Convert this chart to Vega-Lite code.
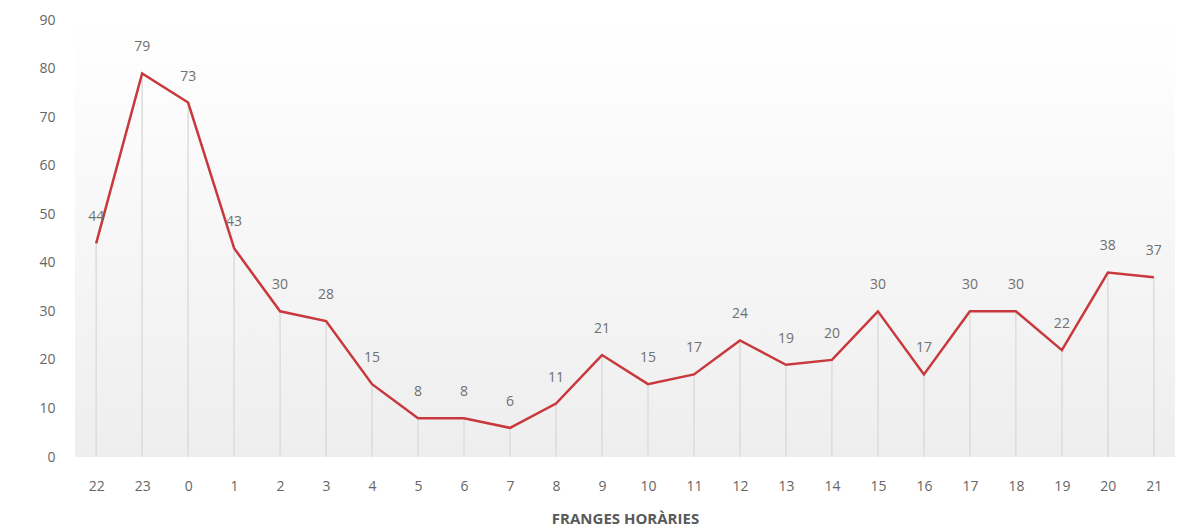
{
  "$schema": "https://vega.github.io/schema/vega-lite/v6.json",
  "width": 1100,
  "height": 437,
  "autosize": {"type": "none"},
  "padding": {"left": 75, "top": 20, "right": 3, "bottom": 74},
  "background": "white",
  "config": {
    "view": {
      "stroke": null,
      "fill": {"gradient": "linear", "x1": 0, "y1": 0, "x2": 0, "y2": 1, "stops": [{"offset": 0, "color": "#ffffff"}, {"offset": 1, "color": "#eeeeee"}]}
    },
    "font": "Open Sans"
  },
  "data": {
    "values": [
      {"hora": "22", "valor": 44},
      {"hora": "23", "valor": 79},
      {"hora": "0", "valor": 73},
      {"hora": "1", "valor": 43},
      {"hora": "2", "valor": 30},
      {"hora": "3", "valor": 28},
      {"hora": "4", "valor": 15},
      {"hora": "5", "valor": 8},
      {"hora": "6", "valor": 8},
      {"hora": "7", "valor": 6},
      {"hora": "8", "valor": 11},
      {"hora": "9", "valor": 21},
      {"hora": "10", "valor": 15},
      {"hora": "11", "valor": 17},
      {"hora": "12", "valor": 24},
      {"hora": "13", "valor": 19},
      {"hora": "14", "valor": 20},
      {"hora": "15", "valor": 30},
      {"hora": "16", "valor": 17},
      {"hora": "17", "valor": 30},
      {"hora": "18", "valor": 30},
      {"hora": "19", "valor": 22},
      {"hora": "20", "valor": 38},
      {"hora": "21", "valor": 37}
    ]
  },
  "encoding": {
    "x": {
      "field": "hora",
      "type": "ordinal",
      "sort": null,
      "scale": {"type": "point", "padding": 0.46},
      "axis": {
        "title": "FRANGES HORÀRIES",
        "titleFontSize": 15,
        "titleFontWeight": "bold",
        "titleColor": "#595959",
        "titlePadding": 18,
        "labelAngle": 0,
        "labelFontSize": 14,
        "labelColor": "#666666",
        "labelPadding": 22,
        "ticks": false,
        "domain": false,
        "grid": false
      }
    },
    "y": {
      "field": "valor",
      "type": "quantitative",
      "scale": {"domain": [0, 90]},
      "axis": {
        "title": null,
        "values": [0, 10, 20, 30, 40, 50, 60, 70, 80, 90],
        "labelFontSize": 14,
        "labelColor": "#666666",
        "labelPadding": 20,
        "ticks": false,
        "domain": false,
        "grid": false
      }
    }
  },
  "layer": [
    {
      "mark": {"type": "rule", "color": "#dcdcdc", "strokeWidth": 1.5},
      "encoding": {"y2": {"datum": 0}}
    },
    {
      "mark": {"type": "line", "color": "#c8383c", "strokeWidth": 2.5}
    },
    {
      "mark": {"type": "text", "dy": -26, "fontSize": 14, "color": "#707070", "baseline": "middle"},
      "encoding": {"text": {"field": "valor", "type": "quantitative"}}
    }
  ]
}
